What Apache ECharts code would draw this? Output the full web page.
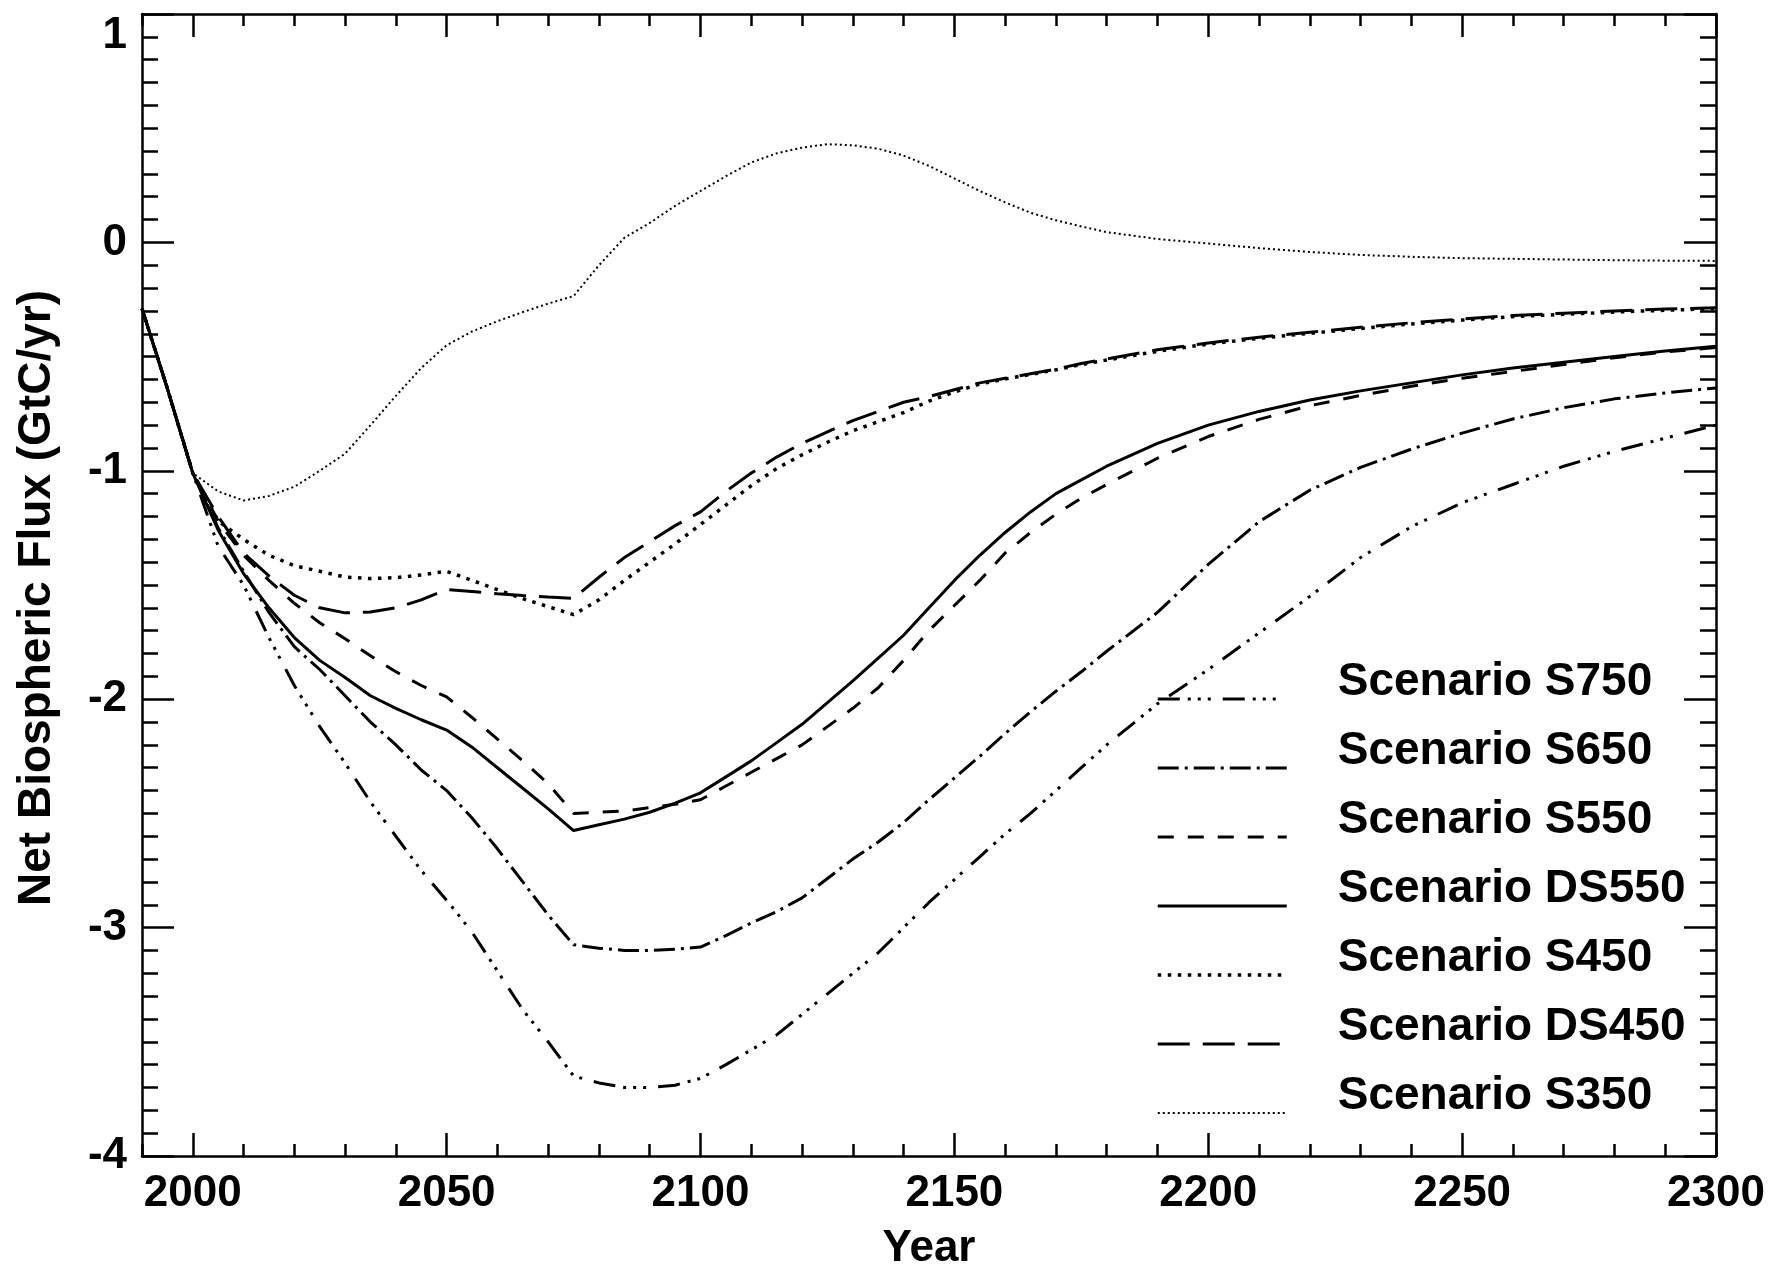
<!DOCTYPE html>
<html>
<head>
<meta charset="utf-8">
<script src="https://cdn.jsdelivr.net/npm/echarts@6/dist/echarts.min.js"></script>
<style>
  html, body { margin: 0; padding: 0; background: #fff; }
  #chart { width: 1776px; height: 1276px; }
</style>
</head>
<body>
<div id="chart"></div>
<script>
// ---- data ----
const years = [1990,1995,2000,2005,2010,2015,2020,2025,2030,2035,2040,2045,2050,2055,2060,2065,2070,2075,2080,2085,2090,2095,2100,2105,2110,2115,2120,2125,2130,2135,2140,2145,2150,2155,2160,2165,2170,2175,2180,2190,2200,2210,2220,2230,2240,2250,2260,2270,2280,2290,2300];

const s750 = [-0.29,-0.64,-1.01,-1.33,-1.50,-1.73,-1.94,-2.12,-2.28,-2.45,-2.60,-2.75,-2.88,-3.02,-3.19,-3.36,-3.50,-3.65,-3.68,-3.70,-3.70,-3.69,-3.66,-3.60,-3.535,-3.47,-3.38,-3.29,-3.20,-3.11,-3.00,-2.89,-2.79,-2.69,-2.59,-2.50,-2.40,-2.30,-2.20,-2.02,-1.87,-1.71,-1.55,-1.38,-1.245,-1.14,-1.06,-0.98,-0.915,-0.857,-0.80];
const s650 = [-0.29,-0.64,-1.01,-1.25,-1.44,-1.62,-1.77,-1.87,-1.985,-2.10,-2.20,-2.31,-2.40,-2.52,-2.655,-2.80,-2.945,-3.075,-3.09,-3.10,-3.10,-3.095,-3.085,-3.035,-2.98,-2.93,-2.87,-2.785,-2.70,-2.625,-2.54,-2.44,-2.345,-2.25,-2.15,-2.055,-1.965,-1.88,-1.79,-1.62,-1.41,-1.223,-1.085,-0.985,-0.905,-0.835,-0.773,-0.724,-0.685,-0.659,-0.637];
const s550 = [-0.29,-0.64,-1.01,-1.22,-1.37,-1.48,-1.58,-1.665,-1.735,-1.81,-1.88,-1.94,-1.99,-2.08,-2.175,-2.27,-2.37,-2.50,-2.495,-2.49,-2.475,-2.46,-2.44,-2.38,-2.32,-2.26,-2.20,-2.12,-2.04,-1.95,-1.83,-1.70,-1.59,-1.48,-1.36,-1.27,-1.19,-1.12,-1.06,-0.945,-0.85,-0.775,-0.715,-0.67,-0.63,-0.595,-0.565,-0.535,-0.505,-0.48,-0.46];
const ds550 = [-0.29,-0.64,-1.01,-1.26,-1.45,-1.60,-1.73,-1.83,-1.905,-1.985,-2.04,-2.09,-2.135,-2.21,-2.30,-2.39,-2.48,-2.575,-2.55,-2.525,-2.495,-2.455,-2.41,-2.34,-2.27,-2.19,-2.11,-2.015,-1.92,-1.82,-1.72,-1.60,-1.48,-1.37,-1.27,-1.18,-1.10,-1.04,-0.98,-0.88,-0.80,-0.74,-0.69,-0.65,-0.615,-0.58,-0.55,-0.525,-0.50,-0.475,-0.455];
const s450 = [-0.29,-0.64,-1.01,-1.22,-1.30,-1.37,-1.415,-1.44,-1.465,-1.472,-1.468,-1.456,-1.44,-1.48,-1.52,-1.56,-1.595,-1.63,-1.565,-1.48,-1.40,-1.32,-1.235,-1.15,-1.065,-0.99,-0.93,-0.875,-0.825,-0.785,-0.745,-0.695,-0.655,-0.62,-0.598,-0.578,-0.558,-0.535,-0.515,-0.477,-0.445,-0.42,-0.398,-0.377,-0.357,-0.34,-0.325,-0.315,-0.305,-0.297,-0.29];
const ds450 = [-0.29,-0.64,-1.01,-1.20,-1.36,-1.46,-1.545,-1.60,-1.622,-1.618,-1.60,-1.565,-1.52,-1.528,-1.538,-1.546,-1.553,-1.558,-1.466,-1.38,-1.31,-1.24,-1.18,-1.09,-1.01,-0.94,-0.88,-0.83,-0.78,-0.74,-0.70,-0.675,-0.645,-0.615,-0.595,-0.575,-0.555,-0.53,-0.51,-0.47,-0.44,-0.415,-0.393,-0.372,-0.352,-0.335,-0.32,-0.31,-0.30,-0.292,-0.286];
const s350 = [-0.29,-0.64,-1.01,-1.09,-1.13,-1.11,-1.07,-1.00,-0.925,-0.80,-0.672,-0.55,-0.45,-0.39,-0.345,-0.305,-0.268,-0.235,-0.10,0.02,0.085,0.16,0.225,0.29,0.35,0.39,0.415,0.43,0.425,0.41,0.38,0.335,0.28,0.225,0.175,0.13,0.097,0.07,0.045,0.015,-0.005,-0.025,-0.042,-0.055,-0.063,-0.069,-0.072,-0.075,-0.078,-0.08,-0.081];

const seriesNames = ['Scenario S750','Scenario S650','Scenario S550','Scenario DS550','Scenario S450','Scenario DS450','Scenario S350'];
const xTicks = [2000,2050,2100,2150,2200,2250,2300];
const yTicks = [-4,-3,-2,-1,0,1];

// ---- styling ----
const FONT = "'Liberation Sans', Arial, Helvetica, sans-serif";
const AXW = 2.5;
const seriesData = [s750, s650, s550, ds550, s450, ds450, s350];
const lineStyles = [
  { width: 3, type: [22, 8, 3, 7, 3, 7, 3, 12] },
  { width: 3, type: [21, 6, 3, 6] },
  { width: 3, type: [16, 14] },
  { width: 3, type: 'solid' },
  { width: 3.5, type: [3.5, 6.5] },
  { width: 3, type: [32, 13] },
  { width: 2, type: [2, 3] }
];

const chart = echarts.init(document.getElementById('chart'), null, { renderer: 'canvas' });

const blackLine = { show: true, onZero: false, lineStyle: { color: '#000', width: AXW } };
const noLine = { show: false, onZero: false };

function xAxisBase(pos, extra) {
  return Object.assign({
    type: 'value', position: pos, min: 1990, max: 2300, interval: 10,
    splitLine: { show: false },
    axisLine: noLine,
    axisTick: { show: true, inside: true, length: 12, lineStyle: { color: '#000', width: AXW } },
    axisLabel: { show: false }
  }, extra);
}

const option = {
  animation: false,
  backgroundColor: '#fff',
  grid: { left: 142, right: 60, top: 14, bottom: 113, containLabel: false },
  xAxis: [
    xAxisBase('bottom', {
      axisLine: blackLine,
      axisLabel: {
        show: true, customValues: xTicks, margin: 16,
        formatter: v => String(v),
        fontFamily: FONT, fontSize: 44, fontWeight: 'bold', color: '#000'
      },
      name: 'Year', nameLocation: 'middle', nameGap: 71,
      nameTextStyle: { fontFamily: FONT, fontSize: 44, fontWeight: 'bold', color: '#000' }
    }),
    xAxisBase('bottom', {
      axisTick: { show: true, inside: true, length: 23, customValues: xTicks, lineStyle: { color: '#000', width: AXW } }
    }),
    xAxisBase('top', { axisLine: blackLine }),
    xAxisBase('top', {
      axisTick: { show: true, inside: true, length: 23, customValues: xTicks, lineStyle: { color: '#000', width: AXW } }
    })
  ],
  yAxis: [
    {
      type: 'value', position: 'left', min: -4, max: 1, interval: 1,
      splitLine: { show: false },
      axisLine: blackLine,
      axisTick: { show: true, inside: true, length: 32, lineStyle: { color: '#000', width: AXW } },
      minorTick: { show: true, splitNumber: 10, length: 16, lineStyle: { color: '#000', width: AXW } },
      axisLabel: {
        show: true, customValues: yTicks, margin: 15,
        fontFamily: FONT, fontSize: 44, fontWeight: 'bold', color: '#000',
        verticalAlignMaxLabel: 'top'
      },
      name: 'Net Biospheric Flux (GtC/yr)', nameLocation: 'middle', nameGap: 82, nameRotate: 90,
      nameTextStyle: { fontFamily: FONT, fontSize: 46, fontWeight: 'bold', color: '#000', padding: [0, 26, 0, 0] }
    },
    {
      type: 'value', position: 'right', min: -4, max: 1, interval: 1,
      splitLine: { show: false },
      axisLine: blackLine,
      axisTick: { show: true, inside: true, length: 32, lineStyle: { color: '#000', width: AXW } },
      minorTick: { show: true, splitNumber: 10, length: 16, lineStyle: { color: '#000', width: AXW } },
      axisLabel: { show: false }
    }
  ],
  legend: {
    orient: 'vertical', left: 1156, top: 659, padding: 0, itemGap: 7,
    itemWidth: 129, itemHeight: 14, selectedMode: false,
    itemStyle: { color: 'rgba(0,0,0,0)', borderWidth: 0, opacity: 0 },
    formatter: name => '{t|' + name + '}\n{s| }',
    textStyle: {
      fontFamily: FONT, fontSize: 46, fontWeight: 'bold', color: '#000',
      padding: [0, 0, 0, 46],
      rich: {
        t: { fontFamily: FONT, fontSize: 46, fontWeight: 'bold', color: '#000', lineHeight: 34 },
        s: { fontSize: 10, lineHeight: 34 }
      }
    },
    data: seriesNames.map((n, i) => ({ name: n, lineStyle: { width: lineStyles[i].width } }))
  },
  series: seriesNames.map((n, i) => ({
    name: n, type: 'line', xAxisIndex: 0, yAxisIndex: 0,
    symbol: 'none', showSymbol: false, smooth: false, silent: true,
    lineStyle: { color: '#000', width: lineStyles[i].width, type: lineStyles[i].type },
    itemStyle: { color: '#000' },
    data: years.map((y, k) => [y, seriesData[i][k]])
  }))
};

chart.setOption(option);
</script>
</body>
</html>
